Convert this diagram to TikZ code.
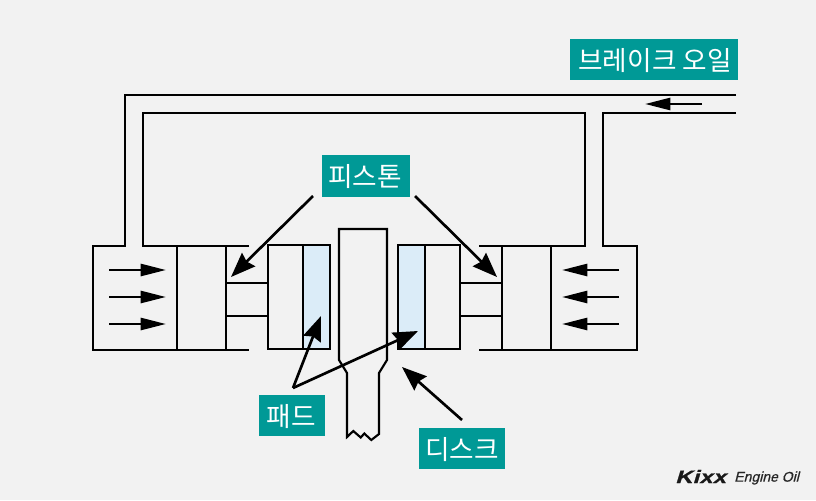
\documentclass[tikz,border=0pt]{standalone}
\usepackage{fontspec}
\setmainfont{Liberation Sans}
\newfontfamily\krfont{Noto Sans CJK KR}
\newfontfamily\logofont[BoldFeatures={FakeBold=1.2,FakeSlant=0.3,FakeStretch=1.3,LetterSpace=2}]{Liberation Sans}
\newfontfamily\logotextfont[FakeBold=0.6,FakeSlant=0.25]{Liberation Sans}
\usetikzlibrary{arrows.meta}
\definecolor{bgc}{HTML}{F2F2F2}
\definecolor{teal1}{HTML}{009996}
\definecolor{padc}{HTML}{DBECF8}
\tikzset{
  part/.style={draw=black,line width=1.6pt,line join=miter},
  flow/.style={draw=black,line width=2pt,-{Triangle[length=19pt,width=9pt]}},
  pointer/.style={draw=black,line width=2pt,-{Stealth[length=18.5pt,width=14pt,inset=2pt]}},
  tagbox/.style={fill=teal1},
  tag/.style={text=white,inner sep=0pt,font=\krfont\fontsize{20}{22}\selectfont,anchor=center},
}
\begin{document}
\begin{tikzpicture}[x=0.75pt,y=-0.75pt]
\path[use as bounding box,fill=bgc] (0,0) rectangle (816,500);
% pads
\fill[padc] (303,245) rectangle (330,349);
\fill[padc] (398,245) rectangle (425,349);
% pipes and left cylinder
\draw[part] (736,95) -- (125,95) -- (125,246) -- (93,246) -- (93,350) -- (249,350);
\draw[part] (249,246) -- (143,246) -- (143,113) -- (585,113) -- (585,246) -- (479,246);
\draw[part] (736,113) -- (603,113) -- (603,246) -- (637,246) -- (637,350) -- (479,350);
% left piston
\draw[part] (177,246) -- (177,350);
\draw[part] (226,246) -- (226,350);
\draw[part] (226,283) -- (268,283);
\draw[part] (226,316) -- (268,316);
\draw[part] (268,245) rectangle (330,349);
\draw[part] (303,245) -- (303,349);
% right piston
\draw[part] (502,246) -- (502,350);
\draw[part] (551,246) -- (551,350);
\draw[part] (460,283) -- (502,283);
\draw[part] (460,316) -- (502,316);
\draw[part] (398,245) rectangle (460,349);
\draw[part] (425,245) -- (425,349);
% disc
\draw[part] (347,437) -- (347,373) -- (339,360) -- (339,229) -- (387,229) -- (387,360) -- (379,373) -- (379,434)
  -- (371.3,440) -- (364.3,433.5) -- (360.7,437.5) -- (353.3,431) -- cycle;
% free ends of the connectors
\coordinate (la1) at (109,270); \coordinate (la2) at (166,270);
\coordinate (lb1) at (109,297); \coordinate (lb2) at (166,297);
\coordinate (lc1) at (109,324); \coordinate (lc2) at (166,324);
\coordinate (ra1) at (619,270); \coordinate (ra2) at (562,270);
\coordinate (rb1) at (619,297); \coordinate (rb2) at (562,297);
\coordinate (rc1) at (619,324); \coordinate (rc2) at (562,324);
\coordinate (oil1) at (702,104); \coordinate (oil2) at (645,104);
\coordinate (pl1) at (313,196); \coordinate (pl2) at (231,277);
\coordinate (pr1) at (415,196); \coordinate (pr2) at (497,277);
\coordinate (pd0) at (293,388); \coordinate (pd1) at (321,316); \coordinate (pd2) at (418,331);
\coordinate (ds1) at (462,420); \coordinate (ds2) at (402,367);
\foreach \a/\b in {la1/la2,lb1/lb2,lc1/lc2,ra1/ra2,rb1/rb2,rc1/rc2,oil1/oil2}
  \draw[flow] (\a) -- (\b);
\foreach \a/\b in {pl1/pl2,pr1/pr2,pd0/pd1,pd0/pd2,ds1/ds2}
  \draw[pointer] (\a) -- (\b);
% labels
\fill[tagbox] (570,39) rectangle (738,80);
\fill[tagbox] (322,155) rectangle (410,197);
\fill[tagbox] (259,395) rectangle (325,436);
\fill[tagbox] (419,428) rectangle (505,469);
\node[tag] (oil) at (655,60.5) {브레이크 오일};
\node[tag] (piston) at (365,177) {피스톤};
\node[tag] (pad) at (291.5,416.5) {패드};
\node[tag] (disc) at (462,449.5) {디스크};
% logo
\node[anchor=west,inner sep=0pt,text=black!90] (logo) at (675,476.5)
  {\logofont\bfseries\fontsize{13.5}{16}\selectfont Kixx};
\node[anchor=west,inner sep=0pt,text=black!85] (logotext) at (734,478)
  {\logotextfont\fontsize{10.5}{12}\selectfont Engine Oil};
\end{tikzpicture}
\end{document}
